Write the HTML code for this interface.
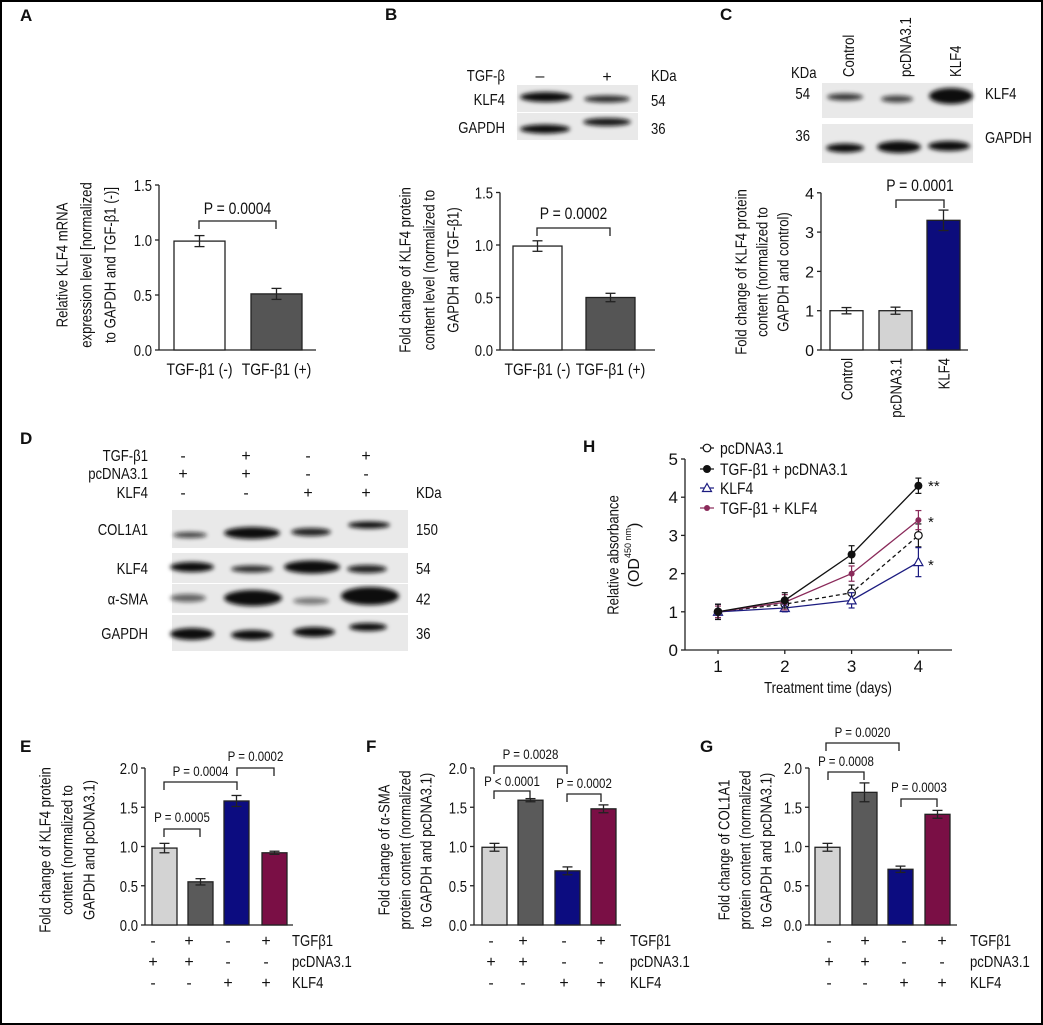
<!DOCTYPE html>
<html><head><meta charset="utf-8">
<style>
html,body{margin:0;padding:0;background:#fff}
svg{display:block}
text{font-family:"Liberation Sans Narrow","Liberation Sans",sans-serif;fill:#111}
</style></head>
<body>
<svg id="fig" width="1043" height="1025" viewBox="0 0 1043 1025" xmlns="http://www.w3.org/2000/svg">
<defs>
<filter id="blur" x="-20%" y="-100%" width="140%" height="300%"><feGaussianBlur stdDeviation="2.2"/></filter>
</defs>
<rect x="1" y="1" width="1041" height="1023" fill="#fff" stroke="#000" stroke-width="2"/>
<g id="root"></g>
</svg>
<script>
// ---------- data ----------
const catA = ["TGF-β1 (-)", "TGF-β1 (+)"];
const valA = [0.99, 0.51];
const errA = [0.05, 0.05];
const ticksA = ["0.0","0.5","1.0","1.5"];

const catB = ["TGF-β1 (-)", "TGF-β1 (+)"];
const valB = [0.99, 0.50];
const errB = [0.05, 0.04];
const ticksB = ["0.0","0.5","1.0","1.5"];

const catC = ["Control","pcDNA3.1","KLF4"];
const valC = [1.0, 1.0, 3.3];
const errC = [0.08, 0.09, 0.26];
const ticksC = ["0","1","2","3","4"];

const signRows = ["TGFβ1","pcDNA3.1","KLF4"];
const signTGF = ["-","+","-","+"];
const signPC = ["+","+","-","-"];
const signKLF = ["-","-","+","+"];
const ticksEFG = ["0.0","0.5","1.0","1.5","2.0"];

const valE = [0.98, 0.55, 1.58, 0.92];
const errE = [0.06, 0.04, 0.07, 0.02];
const valF = [0.99, 1.59, 0.69, 1.48];
const errF = [0.05, 0.02, 0.05, 0.05];
const valG = [0.99, 1.69, 0.71, 1.41];
const errG = [0.05, 0.12, 0.04, 0.05];

const daysH = [1, 2, 3, 4];
const hPc = [1.0, 1.2, 1.5, 3.0];
const hPcErr = [0.2, 0.15, 0.2, 0.3];
const hTgfPc = [1.0, 1.3, 2.5, 4.3];
const hTgfPcErr = [0.2, 0.2, 0.23, 0.2];
const hKlf = [1.0, 1.1, 1.3, 2.3];
const hKlfErr = [0.2, 0.1, 0.2, 0.38];
const hTgfKlf = [1.0, 1.25, 2.0, 3.4];
const hTgfKlfErr = [0.15, 0.2, 0.2, 0.25];
const ticksHy = ["0","1","2","3","4","5"];
const legendH = ["pcDNA3.1","TGF-β1 + pcDNA3.1","KLF4","TGF-β1 + KLF4"];

// ---------- helpers ----------
const NS = "http://www.w3.org/2000/svg";
const root = document.getElementById("root");
function el(tag, attrs, parent, txt){
  const e = document.createElementNS(NS, tag);
  for (const k in attrs) e.setAttribute(k, attrs[k]);
  if (txt !== undefined) e.textContent = txt;
  (parent || root).appendChild(e);
  return e;
}
function grp(name){
  const g = el("g", {});
  
  
  return g;
}
function txt(g, x, y, s, size, anchor, extra){
  const a = {x:x, y:y, "font-size":size, "text-anchor":anchor||"start"};
  if (extra) for (const k in extra) a[k]=extra[k];
  const t = el("text", a, g, s);
  
  
  return t;
}
function line(g,x1,y1,x2,y2,w,col,dash){
  const a={x1:x1,y1:y1,x2:x2,y2:y2,stroke:col||"#222","stroke-width":w||1.3};
  if(dash) a["stroke-dasharray"]=dash;
  return el("line",a,g);
}
function ylabel(g, cx, cy, lines, size, gap){
  lines.forEach((s,i)=>{
    const x = cx + (i-(lines.length-1)/2)*gap;
    const t = txt(g, x, cy, s, size, "middle", {transform:`rotate(-90 ${x} ${cy})`, "dominant-baseline":"central"});
    
  });
}
function yAxis(g, ax, yBase, ppu, ticks, step, top, size){
  line(g, ax, yBase, ax, top, 1.3);
  ticks.forEach((t,i)=>{
    const y = yBase - i*step*ppu;
    line(g, ax-4, y, ax, y, 1.3);
    const tt = txt(g, ax-7, y+6, t, size, "end");
    
  });
}
function bar(g, x, w, v, e, yBase, ppu, fill, name){
  const h = v*ppu;
  const r = el("rect",{x:x,y:yBase-h,width:w,height:h,fill:fill,stroke:"#222","stroke-width":1.3},g);
  
  
  const cx = x+w/2, y1 = yBase-(v+e)*ppu, y2 = yBase-(v-e)*ppu;
  line(g,cx,y1,cx,y2,1.3); line(g,cx-5,y1,cx+5,y1,1.3); line(g,cx-5,y2,cx+5,y2,1.3);
}
function bracket(g, x1, x2, y, label, size, ty){
  const p = el("path",{d:`M${x1},${y+8} L${x1},${y} L${x2},${y} L${x2},${y+8}`,fill:"none",stroke:"#222","stroke-width":1.3},g);
  
  
  const t = txt(g,(x1+x2)/2, ty!==undefined?ty:y-7, label, size, "middle");
  
}
function blot(g, x, y, w, h, bands, name){
  const r = el("rect",{x:x,y:y,width:w,height:h,fill:"#e9e9e9"},g);
  
  
  bands.forEach(b=>{
    el("ellipse",{cx:b[0],cy:b[1],rx:b[2],ry:b[3],fill:"#111",opacity:b[4]||1,filter:"url(#blur)"},g);
  });
}

// ---------- Panel letters ----------
[["A",20,21],["B",385,20],["C",720,20],["D",20,444],["E",20,752],["F",366,752],["G",700,752],["H",583,452]].forEach(p=>{
  const t = txt(root,p[1],p[2],p[0],17,"start",{"font-weight":"bold","font-family":"Liberation Sans, sans-serif","class":"nocond"});
  
});

// ---------- Panel A ----------
(function(){
  const g = grp("panel-a-chart");
  const ax=159, yb=350, ppu=110;
  yAxis(g, ax, yb, ppu, ticksA, 0.5, yb-1.5*ppu, 16);
  line(g, ax, yb, 316, yb, 1.3);
  const xs=[174,251], w=51, fills=["#fff","#555"];
  valA.forEach((v,i)=>bar(g, xs[i], w, v, errA[i], yb, ppu, fills[i], "bar-a-"+(i+1)));
  catA.forEach((c,i)=>{const t=txt(g, xs[i]+w/2, 375, c, 17, "middle"); });
  bracket(g, 199, 276, 221, "P = 0.0004", 17, 214);
  ylabel(g, 87, 265, ["Relative KLF4 mRNA","expression level [normalized","to GAPDH and TGF-β1 (-)]"], 16, 24);
})();

// ---------- Panel B ----------
(function(){
  const g = grp("panel-b");
  txt(g,505,81,"TGF-β",16,"end"); txt(g,505,105,"KLF4",16,"end"); txt(g,505,133,"GAPDH",16,"end");
  txt(g,540,81,"–",16,"middle"); txt(g,607,82,"+",16,"middle");
  txt(g,651,81,"KDa",16,"start"); txt(g,651,106,"54",16,"start"); txt(g,651,134,"36",16,"start");
  blot(g,517,85,121,27,[[546,97,26,5],[607,99,23,3.5,0.85]],"blot-b-klf4");
  blot(g,517,113,121,27,[[545,129,25,4.5],[607,122,24,4,0.95]],"blot-b-gapdh");
  const ax=500, yb=350, ppu=105;
  yAxis(g, ax, yb, ppu, ticksB, 0.5, yb-1.5*ppu, 16);
  line(g, ax, yb, 655, yb, 1.3);
  const xs=[513,586], w=49, fills=["#fff","#555"];
  valB.forEach((v,i)=>bar(g, xs[i], w, v, errB[i], yb, ppu, fills[i], "bar-b-"+(i+1)));
  catB.forEach((c,i)=>{const t=txt(g, xs[i]+w/2, 375, c, 17, "middle"); });
  bracket(g, 537, 610, 228, "P = 0.0002", 17, 219);
  ylabel(g, 430, 270, ["Fold change of KLF4 protein","content level (normalized to","GAPDH and TGF-β1)"], 16, 24);
})();

// ---------- Panel C ----------
(function(){
  const g = grp("panel-c");
  [["Control",848],["pcDNA3.1",905],["KLF4",955]].forEach(c=>{
    txt(g,c[1]+6,77,c[0],16,"start",{transform:`rotate(-90 ${c[1]+6} 77)`});
  });
  txt(g,791,78,"KDa",16,"start"); txt(g,810,99,"54",16,"end"); txt(g,810,141,"36",16,"end");
  txt(g,985,99,"KLF4",16,"start"); txt(g,985,143,"GAPDH",16,"start");
  blot(g,822,83,151,35,[[845,97,18,3.5,0.8],[897,99,16,3.5,0.75],[951,96,22,8]],"blot-c-klf4");
  blot(g,822,124,151,39,[[845,148,19,4.5],[899,147,22,6],[949,146,21,5]],"blot-c-gapdh");
  const ax=821, yb=350, ppu=39.3;
  yAxis(g, ax, yb, ppu, ticksC, 1, yb-4*ppu, 16);
  line(g, ax, yb, 968, yb, 1.3);
  const xs=[830,879,927], w=33, fills=["#fff","#d3d3d3","#0c0c7c"];
  valC.forEach((v,i)=>bar(g, xs[i], w, v, errC[i], yb, ppu, fills[i], "bar-c-"+(i+1)));
  catC.forEach((c,i)=>{const x=xs[i]+w/2+6; const t=txt(g, x, 358, c, 16, "end", {transform:`rotate(-90 ${x} 358)`}); });
  bracket(g, 896, 944, 200, "P = 0.0001", 17, 191);
  ylabel(g, 763, 272, ["Fold change of KLF4 protein","content (normalized to","GAPDH and control)"], 16, 21);
})();

// ---------- Panel D ----------
(function(){
  const g = grp("panel-d");
  const cols=[183,246,308,366];
  txt(g,148,461,"TGF-β1",16,"end"); txt(g,148,479,"pcDNA3.1",16,"end"); txt(g,148,498,"KLF4",16,"end");
  cols.forEach((x,i)=>{ txt(g,x,461,signTGF[i],16,"middle"); txt(g,x,479,signPC[i],16,"middle"); txt(g,x,498,signKLF[i],16,"middle"); });
  txt(g,416,498,"KDa",16,"start");
  const rows=[["COL1A1",510,38,"150"],["KLF4",553,30,"54"],["α-SMA",584,29,"42"],["GAPDH",615,36,"36"]];
  rows.forEach(r=>{ txt(g,148,r[1]+r[2]/2+6,r[0],16,"end"); txt(g,416,r[1]+r[2]/2+6,r[3],16,"start"); });
  blot(g,172,510,236,38,[[190,535,17,3,0.75],[252,533,28,6],[311,532,20,4,0.9],[369,525,21,3.5]],"blot-d-col1a1");
  blot(g,172,553,236,30,[[192,567,22,5],[252,569,21,3.5,0.85],[312,567,28,6.5],[367,569,20,4,0.9]],"blot-d-klf4");
  blot(g,172,584,236,29,[[188,598,18,4,0.6],[253,598,29,8],[311,601,18,3.5,0.5],[370,596,29,9]],"blot-d-asma");
  blot(g,172,615,236,36,[[192,634,22,6],[252,635,21,5],[314,632,21,5],[368,627,19,4]],"blot-d-gapdh");
})();

// ---------- Panels E F G ----------
function efg(name, ax, xs, w, xEnd, vals, errs, signX, labelX, brackets, ylab, ylx, gap){
  const g = grp(name);
  const yb=925, ppu=78.5;
  yAxis(g, ax, yb, ppu, ticksEFG, 0.5, yb-2*ppu, 16);
  line(g, ax, yb, xEnd, yb, 1.3);
  const fills=["#d3d3d3","#5a5a5a","#0c0c80","#7a0f45"];
  vals.forEach((v,i)=>bar(g, xs[i], w, v, errs[i], yb, ppu, fills[i], name+"-bar-"+(i+1)));
  const rowsY=[946,967,988];
  [signTGF,signPC,signKLF].forEach((arr,r)=>{
    arr.forEach((s,i)=>txt(g,signX[i],rowsY[r],s,16,"middle"));
    txt(g,labelX,rowsY[r],signRows[r],16,"start");
  });
  brackets.forEach(b=>bracket(g,b[0],b[1],b[2],b[3],14,b[4]));
  ylabel(g, ylx, 850, ylab, 16, gap);
}
efg("panel-e", 145, [152,188,224,262], 25, 293, valE, errE, [153,189,228,266], 292,
  [[164,200,829,"P = 0.0005",822],[164,237,782,"P = 0.0004",776],[237,274,768,"P = 0.0002",761]],
  ["Fold change of KLF4 protein","content (normalized to","GAPDH and pcDNA3.1)"], 68, 22);
efg("panel-f", 474, [482,518,555,591], 25, 621, valF, errF, [491,523,564,601], 630,
  [[494,530,791,"P < 0.0001",786],[494,567,766,"P = 0.0028",759],[567,601,794,"P = 0.0002",788]],
  ["Fold change of α-SMA","protein content (normalized","to GAPDH and pcDNA3.1)"], 406, 21);
efg("panel-g", 809, [815,852,888,925], 25, 957, valG, errG, [829,865,904,942], 970,
  [[828,864,772,"P = 0.0008",766],[826,899,743,"P = 0.0020",737],[901,937,799,"P = 0.0003",792]],
  ["Fold change of COL1A1","protein content (normalized","to GAPDH and pcDNA3.1)"], 746, 21);

// ---------- Panel H ----------
(function(){
  const g = grp("panel-h");
  const ax=685, yb=650, ppu=38.2;
  const xOf = d => 718 + (d-1)*66.8;
  const yOf = v => yb - v*ppu;
  yAxis(g, ax, yb, ppu, ticksHy, 1, yOf(5), 17);
  line(g, ax, yb, 952, yb, 1.3);
  daysH.forEach(d=>{ line(g,xOf(d),yb,xOf(d),yb+4,1.3); const t=txt(g,xOf(d),672,String(d),17,"middle");  });
  const xt = txt(g,828,693,"Treatment time (days)",16,"middle"); 
  const yt1 = txt(g,614,555,"Relative absorbance",16,"middle",{transform:"rotate(-90 614 555)","dominant-baseline":"central"});
  
  const yt2 = el("text",{x:634,y:555,"font-size":16,"text-anchor":"middle",transform:"rotate(-90 634 555)","dominant-baseline":"central","class":"nocond"},g);
  
  
  el("tspan",{},yt2,"(OD");
  el("tspan",{"font-size":9,dy:-6},yt2,"450 nm");
  el("tspan",{dy:6},yt2,")");
  const series=[
    [hPc,hPcErr,"#111","4,3","open-circle","series-pcdna"],
    [hKlf,hKlfErr,"#1c1c80",null,"open-tri","series-klf4"],
    [hTgfKlf,hTgfKlfErr,"#8a2a5a",null,"small-fill","series-tgf-klf4"],
    [hTgfPc,hTgfPcErr,"#111",null,"fill-circle","series-tgf-pcdna"]
  ];
  function marker(gg,x,y,type,col){
    let m;
    if(type==="open-circle") m=el("circle",{cx:x,cy:y,r:3.8,fill:"#fff",stroke:col,"stroke-width":1.2},gg);
    else if(type==="fill-circle") m=el("circle",{cx:x,cy:y,r:4,fill:col},gg);
    else if(type==="open-tri") m=el("path",{d:`M${x},${y-4.5} L${x+4.5},${y+3.5} L${x-4.5},${y+3.5} Z`,fill:"#fff",stroke:col,"stroke-width":1.2},gg);
    else m=el("circle",{cx:x,cy:y,r:3,fill:col},gg);
    
    
  }
  series.forEach(s=>{
    const gg = grp(s[5]);
    const pts = daysH.map((d,i)=>xOf(d)+","+yOf(s[0][i])).join(" ");
    const pl = el("polyline",{points:pts,fill:"none",stroke:s[2],"stroke-width":1.3},gg);
    if(s[3]) pl.setAttribute("stroke-dasharray",s[3]);
    
    
    daysH.forEach((d,i)=>{
      const x=xOf(d), y1=yOf(s[0][i]+s[1][i]), y2=yOf(s[0][i]-s[1][i]);
      line(gg,x,y1,x,y2,1.2,s[2]); line(gg,x-3,y1,x+3,y1,1.2,s[2]); line(gg,x-3,y2,x+3,y2,1.2,s[2]);
      marker(gg,x,yOf(s[0][i]),s[4],s[2]);
    });
  });
  txt(g,928,491,"**",15,"start"); txt(g,928,527,"*",15,"start"); txt(g,928,570,"*",15,"start");
  const lg = grp("legend-h");
  const types=[["open-circle","#111"],["fill-circle","#111"],["open-tri","#1c1c80"],["small-fill","#8a2a5a"]];
  const ly=[448,469,488,508];
  legendH.forEach((s,i)=>{
    line(lg,700,ly[i],714,ly[i],1.2,types[i][1]);
    marker(lg,707,ly[i],types[i][0],types[i][1]);
    const t = txt(lg,720,ly[i]+6,s,17,"start"); 
  });
})();

// condense text to mimic a narrow typeface
document.querySelectorAll("#root text").forEach(t=>{
  if (t.getAttribute("class")==="nocond") return;
  const L = t.getComputedTextLength();
  if (L > 12) { t.setAttribute("textLength", (L*0.82).toFixed(1)); t.setAttribute("lengthAdjust","spacingAndGlyphs"); }
});
</script>
</body></html>
